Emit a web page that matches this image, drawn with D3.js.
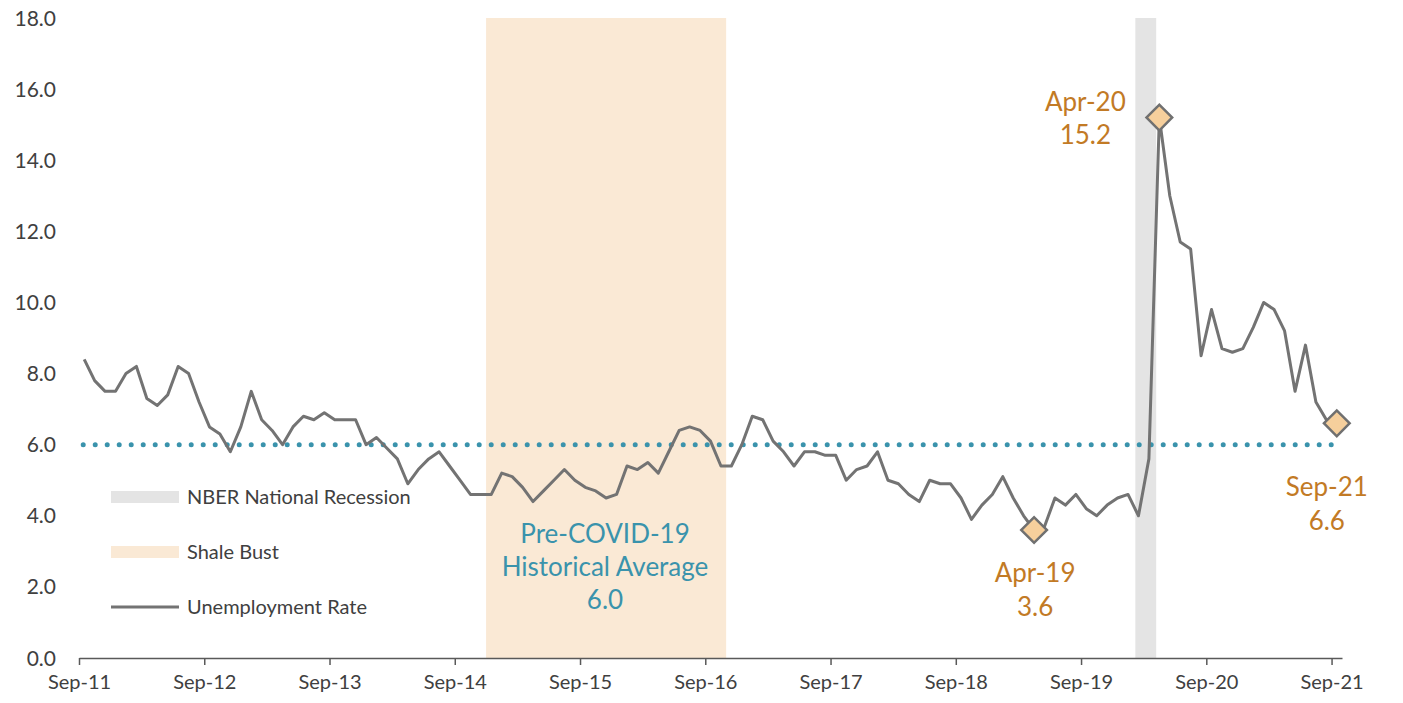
<!DOCTYPE html>
<html>
<head>
<meta charset="utf-8">
<script src="https://cdn.jsdelivr.net/npm/d3@7"></script>
<style>
  body { margin: 0; background: #fff; }
  svg { display: block; font-family: Lato, "Open Sans", sans-serif; }
</style>
</head>
<body>
<div id="chart"></div>
<script>
// monthly unemployment rate, Sep-11 .. Sep-21
const startMonth = new Date(2011, 8, 1);
const rate = [
  8.4, 7.8, 7.5, 7.5, 8.0, 8.2, 7.3, 7.1, 7.4, 8.2, 8.0, 7.2,
  6.5, 6.3, 5.8, 6.5, 7.5, 6.7, 6.4, 6.0, 6.5, 6.8, 6.7, 6.9,
  6.7, 6.7, 6.7, 6.0, 6.2, 5.9, 5.6, 4.9, 5.3, 5.6, 5.8, 5.4,
  5.0, 4.6, 4.6, 4.6, 5.2, 5.1, 4.8, 4.4, 4.7, 5.0, 5.3, 5.0,
  4.8, 4.7, 4.5, 4.6, 5.4, 5.3, 5.5, 5.2, 5.8, 6.4, 6.5, 6.4,
  6.1, 5.4, 5.4, 6.0, 6.8, 6.7, 6.1, 5.8, 5.4, 5.8, 5.8, 5.7,
  5.7, 5.0, 5.3, 5.4, 5.8, 5.0, 4.9, 4.6, 4.4, 5.0, 4.9, 4.9,
  4.5, 3.9, 4.3, 4.6, 5.1, 4.5, 4.0, 3.6, 3.7, 4.5, 4.3, 4.6,
  4.2, 4.0, 4.3, 4.5, 4.6, 4.0, 5.6, 15.2, 13.0, 11.7, 11.5, 8.5,
  9.8, 8.7, 8.6, 8.7, 9.3, 10.0, 9.8, 9.2, 7.5, 8.8, 7.2, 6.7,
  6.6
];
const tickLabels = ["Sep-11", "Sep-12", "Sep-13", "Sep-14", "Sep-15", "Sep-16",
                    "Sep-17", "Sep-18", "Sep-19", "Sep-20", "Sep-21"];
const yTicks = [0, 2, 4, 6, 8, 10, 12, 14, 16, 18];
const shaleBust = ["Dec-14", "Oct-16"];
const recession = ["Feb-20", "Mar-20"];
const historicalAvg = 6.0;
const callouts = ["Apr-19", "Apr-20", "Sep-21"];

const fmt = d3.timeFormat("%b-%y");
const months = rate.map((_, i) => fmt(d3.timeMonth.offset(startMonth, i)));
const idx = m => months.indexOf(m);

const width = 1403, height = 703;
const margin = {top: 18, right: 61, bottom: 45, left: 79};

const svg = d3.select("#chart").append("svg")
  .attr("width", width)
  .attr("height", height);

const x = d3.scaleLinear().domain([0, months.length]).range([margin.left, width - margin.right]);
const y = d3.scaleLinear().domain([0, 18]).range([height - margin.bottom, margin.top]);
const xc = i => x(i + 0.5);

// shaded periods
svg.append("rect")
  .attr("x", x(idx(shaleBust[0])))
  .attr("width", x(idx(shaleBust[1]) + 1) - x(idx(shaleBust[0])))
  .attr("y", y(18))
  .attr("height", y(0) - y(18))
  .attr("fill", "#fae9d5");

svg.append("rect")
  .attr("x", x(idx(recession[0]) + 0.2))
  .attr("width", x(idx(recession[1]) + 1) - x(idx(recession[0])))
  .attr("y", y(18))
  .attr("height", y(0) - y(18))
  .attr("fill", "#e4e4e4");

// y labels (no axis line)
svg.append("g").selectAll("text")
  .data(yTicks)
  .join("text")
    .attr("x", 56)
    .attr("y", d => y(d))
    .attr("dy", "0.36em")
    .attr("text-anchor", "end")
    .attr("fill", "#404040")
    .style("font-size", "21px")
    .text(d => d.toFixed(1));

// x axis
const xAxis = svg.append("g")
  .attr("transform", `translate(0,${y(0)})`)
  .call(d3.axisBottom(x)
    .tickValues(tickLabels.map(t => idx(t)))
    .tickFormat(i => months[i])
    .tickSize(7)
    .tickSizeOuter(0));
xAxis.select(".domain").attr("stroke", "#595959").attr("stroke-width", 1.5);
xAxis.selectAll(".tick line").attr("stroke", "#595959").attr("stroke-width", 1.5);
xAxis.selectAll(".tick text")
  .attr("dy", "1.05em")
  .attr("fill", "#404040")
  .style("font-size", "20px")
  .style("font-family", "Lato, 'Open Sans', sans-serif");

// historical average dotted line
svg.append("line")
  .attr("x1", xc(0) - 1)
  .attr("x2", xc(months.length - 1) - 4)
  .attr("y1", y(historicalAvg))
  .attr("y2", y(historicalAvg))
  .attr("stroke", "#3a93ac")
  .attr("stroke-width", 5)
  .attr("stroke-linecap", "round")
  .attr("stroke-dasharray", "0 12");

// unemployment line
svg.append("path")
  .datum(rate)
  .attr("fill", "none")
  .attr("stroke", "#737373")
  .attr("stroke-width", 3)
  .attr("stroke-linejoin", "round")
  .attr("d", d3.line().x((d, i) => xc(i)).y(d => y(d)));

// callout diamonds
const diamond = d3.symbol().type(d3.symbolSquare).size(330);
svg.append("g").selectAll("path")
  .data(callouts)
  .join("path")
    .attr("d", diamond)
    .attr("transform", m => `translate(${xc(idx(m))},${y(rate[idx(m)])}) rotate(45)`)
    .attr("fill", "#f6cf9c")
    .attr("stroke", "#707070")
    .attr("stroke-width", 2.5);

const labelPos = {
  "Apr-19": [1, 52],
  "Apr-20": [-74, -7],
  "Sep-21": [-10, 73]
};
const orange = "#c27a25";
callouts.forEach(m => {
  const i = idx(m);
  const [dx, dy] = labelPos[m];
  const t = svg.append("text")
    .attr("x", xc(i) + dx)
    .attr("y", y(rate[i]) + dy)
    .attr("text-anchor", "middle")
    .attr("fill", orange)
    .style("font-size", "26px");
  t.append("tspan").attr("x", xc(i) + dx).text(m);
  t.append("tspan").attr("x", xc(i) + dx).attr("dy", "1.3em").text(rate[i].toFixed(1));
});

// historical average label
const avgText = svg.append("text")
  .attr("x", 605)
  .attr("y", 543)
  .attr("text-anchor", "middle")
  .attr("fill", "#3a93ac")
  .style("font-size", "26px");
["Pre-COVID-19", "Historical Average", historicalAvg.toFixed(1)].forEach((s, k) => {
  avgText.append("tspan").attr("x", 605).attr("dy", k ? "1.27em" : 0).text(s);
});

// legend
const legend = [
  {label: "NBER National Recession", type: "rect", color: "#e4e4e4"},
  {label: "Shale Bust", type: "rect", color: "#fae9d5"},
  {label: "Unemployment Rate", type: "line", color: "#737373"}
];
const lg = svg.append("g").selectAll("g")
  .data(legend)
  .join("g")
    .attr("transform", (d, k) => `translate(111,${497 + k * 55})`);
lg.filter(d => d.type === "rect").append("rect")
  .attr("x", 0).attr("y", -6).attr("width", 68).attr("height", 12)
  .attr("fill", d => d.color);
lg.filter(d => d.type === "line").append("line")
  .attr("x1", 0).attr("x2", 68)
  .attr("stroke", d => d.color).attr("stroke-width", 3);
lg.append("text")
  .attr("x", 76)
  .attr("dy", "0.36em")
  .attr("fill", "#404040")
  .style("font-size", "20px")
  .text(d => d.label);
</script>
</body>
</html>
